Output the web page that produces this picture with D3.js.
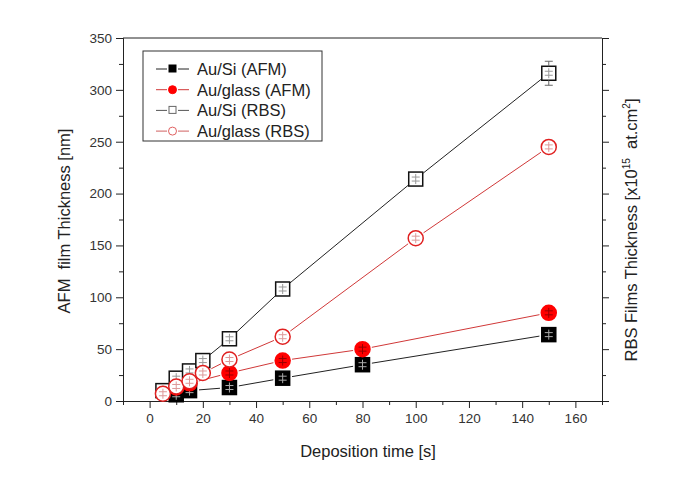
<!DOCTYPE html>
<html>
<head>
<meta charset="utf-8">
<script src="https://cdn.jsdelivr.net/npm/d3@7"></script>
<style>
  body { margin: 0; background: #fff; }
  text { font-family: Arial, "Liberation Sans", sans-serif; }
</style>
</head>
<body>
<div id="output"></div>
<script>
// data
var siAfmX = [10, 15, 30, 50, 80, 150];
var siAfmY = [6, 10, 13, 22, 35, 64];
var glassAfmX = [10, 15, 30, 50, 80, 150];
var glassAfmY = [13, 17, 27, 39, 50, 85];
var siRbsX = [5, 10, 15, 20, 30, 50, 100, 150];
var siRbsY = [10, 22, 29, 39, 60, 108, 214, 316];
var glassRbsX = [5, 10, 15, 20, 30, 50, 100, 150];
var glassRbsY = [7, 14, 19, 27, 40, 62, 157, 245];
var xTicks = [0, 20, 40, 60, 80, 100, 120, 140, 160];
var yTicks = [0, 50, 100, 150, 200, 250, 300, 350];
var legendNames = ['Au/Si (AFM)', 'Au/glass (AFM)', 'Au/Si (RBS)', 'Au/glass (RBS)'];

var width = 685;
var height = 481;

var svg = d3.select('#output')
  .append('svg')
  .attr('width', width)
  .attr('height', height);

var xScale = d3.scaleLinear().domain([-10, 170]).range([123, 602]);
var yScale = d3.scaleLinear().domain([0, 350]).range([401, 38]);

// frame top line
svg.append('line')
  .attr('x1', 123).attr('x2', 602).attr('y1', 38).attr('y2', 38)
  .attr('stroke', '#222').attr('stroke-width', 1);

// x axis
var xMinor = d3.range(-10, 171, 10).filter((d) => d % 20 !== 0);
svg.append('g')
  .attr('transform', `translate(0, ${yScale(0)})`)
  .call(d3.axisBottom(xScale).tickValues(xMinor).tickSize(4).tickFormat(''));
svg.append('g')
  .attr('transform', `translate(0, ${yScale(0)})`)
  .call(d3.axisBottom(xScale).tickValues(xTicks).tickSize(7).tickSizeOuter(0).tickPadding(5));

// y axes
var yMinor = [25, 75, 125, 175, 225, 275, 325];
svg.append('g')
  .attr('transform', `translate(${xScale(-10)}, 0)`)
  .call(d3.axisLeft(yScale).tickValues(yMinor).tickSize(4).tickFormat(''));
svg.append('g')
  .attr('transform', `translate(${xScale(-10)}, 0)`)
  .call(d3.axisLeft(yScale).tickValues(yTicks).tickSize(7).tickSizeOuter(0).tickPadding(4));
svg.append('g')
  .attr('transform', `translate(${xScale(170)}, 0)`)
  .call(d3.axisRight(yScale).tickValues(yMinor).tickSize(4).tickFormat(''));
svg.append('g')
  .attr('transform', `translate(${xScale(170)}, 0)`)
  .call(d3.axisRight(yScale).tickValues(yTicks).tickSize(7).tickSizeOuter(0).tickFormat(''));

svg.selectAll('.domain').attr('stroke', '#222');
svg.selectAll('.tick line').attr('stroke', '#222');
svg.selectAll('.tick text').attr('font-size', 13.5).attr('fill', '#333')
  .style('font-family', 'Arial, "Liberation Sans", sans-serif');

// axis titles
svg.append('text')
  .attr('x', 368).attr('y', 457)
  .attr('text-anchor', 'middle')
  .attr('font-size', 16.5).attr('fill', '#222')
  .text('Deposition time [s]');

svg.append('text')
  .attr('transform', 'translate(70, 221) rotate(-90)')
  .attr('text-anchor', 'middle')
  .attr('font-size', 16.5).attr('fill', '#222')
  .attr('xml:space', 'preserve')
  .style('white-space', 'pre')
  .text('AFM  film Thickness [nm]');

var rLabel = svg.append('text')
  .attr('transform', 'translate(637, 230) rotate(-90)')
  .attr('text-anchor', 'middle')
  .attr('font-size', 16.5).attr('fill', '#222');
rLabel.append('tspan').text('RBS Films Thickness [x10');
rLabel.append('tspan').attr('font-size', 10).attr('dy', -7).text('15');
rLabel.append('tspan').attr('dy', 7).text('  at.cm');
rLabel.append('tspan').attr('font-size', 10).attr('dy', -7).text('2');
rLabel.append('tspan').attr('dy', 7).text(']');
rLabel.attr('xml:space', 'preserve').style('white-space', 'pre');

// series
var series = [
  { xs: siAfmX, ys: siAfmY, line: '#222', shape: 'square', fill: '#000', stroke: '#000', err: '#aaa' },
  { xs: glassAfmX, ys: glassAfmY, line: '#d03838', shape: 'circle', fill: '#ff0000', stroke: '#ff0000', err: '#900' },
  { xs: siRbsX, ys: siRbsY, line: '#222', shape: 'square', fill: '#fff', stroke: '#111', err: '#999' },
  { xs: glassRbsX, ys: glassRbsY, line: '#d03838', shape: 'circle', fill: '#fff', stroke: '#e02020', err: '#d99' }
];

var markerR = 7.5;
var gap = markerR + 2;

series.forEach(function (s) {
  var pts = s.xs.map((x, i) => [xScale(x), yScale(s.ys[i])]);
  var segs = d3.pairs(pts);
  svg.append('g').selectAll('line')
    .data(segs)
    .enter()
    .append('line')
    .each(function (d) {
      var dx = d[1][0] - d[0][0], dy = d[1][1] - d[0][1];
      var len = Math.sqrt(dx * dx + dy * dy);
      var ux = dx / len, uy = dy / len;
      var g = Math.min(gap, len / 2);
      d3.select(this)
        .attr('x1', d[0][0] + ux * g).attr('y1', d[0][1] + uy * g)
        .attr('x2', d[1][0] - ux * g).attr('y2', d[1][1] - uy * g);
    })
    .attr('stroke', s.line)
    .attr('stroke-width', 1);
});

series.forEach(function (s) {
  var pts = s.xs.map((x, i) => [xScale(x), yScale(s.ys[i])]);
  var g = svg.append('g');
  if (s.shape === 'square') {
    g.selectAll('rect').data(pts).enter().append('rect')
      .attr('x', (d) => d[0] - 7).attr('y', (d) => d[1] - 7)
      .attr('width', 14).attr('height', 14)
      .attr('fill', s.fill).attr('stroke', s.stroke).attr('stroke-width', 1.5);
  } else {
    g.selectAll('circle').data(pts).enter().append('circle')
      .attr('cx', (d) => d[0]).attr('cy', (d) => d[1])
      .attr('r', markerR)
      .attr('fill', s.fill).attr('stroke', s.stroke).attr('stroke-width', 1.5);
  }
  // small error bars inside markers
  var e = g.selectAll('g.err').data(pts).enter().append('g')
    .attr('stroke', s.err).attr('stroke-width', 1);
  e.append('line').attr('x1', (d) => d[0]).attr('x2', (d) => d[0])
    .attr('y1', (d) => d[1] - 5).attr('y2', (d) => d[1] + 5);
  e.append('line').attr('x1', (d) => d[0] - 4).attr('x2', (d) => d[0] + 4)
    .attr('y1', (d) => d[1] - 2).attr('y2', (d) => d[1] - 2);
  e.append('line').attr('x1', (d) => d[0] - 4).attr('x2', (d) => d[0] + 4)
    .attr('y1', (d) => d[1] + 2).attr('y2', (d) => d[1] + 2);
});

// error caps on last open square
var last = [xScale(siRbsX[7]), yScale(siRbsY[7])];
var cap = svg.append('g').attr('stroke', '#666').attr('stroke-width', 1);
cap.append('line').attr('x1', last[0]).attr('x2', last[0]).attr('y1', last[1] - 12).attr('y2', last[1] - 7);
cap.append('line').attr('x1', last[0] - 4).attr('x2', last[0] + 4).attr('y1', last[1] - 12).attr('y2', last[1] - 12);
cap.append('line').attr('x1', last[0]).attr('x2', last[0]).attr('y1', last[1] + 7).attr('y2', last[1] + 12);
cap.append('line').attr('x1', last[0] - 4).attr('x2', last[0] + 4).attr('y1', last[1] + 12).attr('y2', last[1] + 12);

// legend
var legend = svg.append('g');
legend.append('rect')
  .attr('x', 143).attr('y', 51).attr('width', 179).attr('height', 90)
  .attr('fill', '#fff').attr('stroke', '#333').attr('stroke-width', 1);

var legendLines = ['#222', '#d03838', '#555', '#d06060'];
legendNames.forEach(function (name, i) {
  var y = 69 + i * 20.7;
  var s = series[i];
  var row = legend.append('g');
  row.append('line').attr('x1', 156).attr('x2', 167).attr('y1', y).attr('y2', y)
    .attr('stroke', legendLines[i]);
  row.append('line').attr('x1', 178).attr('x2', 189).attr('y1', y).attr('y2', y)
    .attr('stroke', legendLines[i]);
  if (s.shape === 'square') {
    row.append('rect').attr('x', 169).attr('y', y - 4).attr('width', 7).attr('height', 7)
      .attr('fill', s.fill).attr('stroke', i === 2 ? '#666' : '#000').attr('stroke-width', 1);
  } else {
    row.append('circle').attr('cx', 172.5).attr('cy', y).attr('r', 4)
      .attr('fill', s.fill).attr('stroke', i === 3 ? '#e06060' : '#ff0000').attr('stroke-width', 1);
  }
  row.append('text')
    .attr('x', 197).attr('y', y + 6)
    .attr('font-size', 16.5).attr('fill', '#222')
    .text(name);
});
</script>
</body>
</html>
